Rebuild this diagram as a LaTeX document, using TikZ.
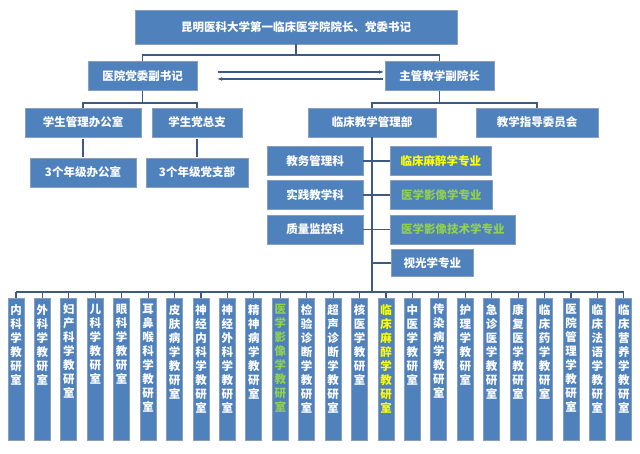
\documentclass[tikz,border=0pt]{standalone}
\usepackage{fontspec}
\setmainfont{Noto Sans CJK SC}
\XeTeXlinebreaklocale "zh"
\XeTeXlinebreakskip=0pt plus 1pt
\usetikzlibrary{arrows.meta}
\definecolor{boxblue}{RGB}{79,129,189}
\definecolor{edgeblue}{RGB}{56,93,138}
\definecolor{linkblue}{RGB}{60,90,130}
\definecolor{majyel}{RGB}{255,255,0}
\definecolor{majgrn}{RGB}{146,208,80}
\tikzset{
  unit/.style={draw=edgeblue!60!white, line width=0.8pt, fill=boxblue, text=white, inner sep=0pt, font=\fontsize{11.5}{13}\selectfont\bfseries},
  lab/.style={unit, minimum height=29},
  col/.style={unit, minimum width=16, minimum height=142, anchor=north},
  link/.style={draw=linkblue, line width=1.2pt},
}
\begin{document}
\begin{tikzpicture}[x=1pt,y=-1pt]
\useasboundingbox (0,0) rectangle (640,454);

% top levels
\node[lab, minimum width=322, minimum height=34] (head) at (296,27) {昆明医科大学第一临床医学院院长、党委书记};
\node[lab, minimum width=109] (party) at (142.5,76) {医院党委副书记};
\node[lab, minimum width=109] (vice) at (439.5,76) {主管教学副院长};
\draw[link] (head.south) -- (296,55);
\draw[link] (party.north) -- (142.5,55) -- (439.5,55) -- (vice.north);
\draw[link, -{Latex[length=5pt]}] (218,72) -- (384,72);
\draw[link, -{Latex[length=5pt]}] (383,79) -- (217,79);

% student side
\node[lab, minimum width=116] (stuoff) at (83,122.5) {学生管理办公室};
\node[lab, minimum width=90] (stupty) at (197,122.5) {学生党总支};
\node[lab, minimum width=106] (gradeoff) at (83,172.5) {3个年级办公室};
\node[lab, minimum width=102] (gradepty) at (197,172.5) {3个年级党支部};
\draw[link] (party.south) -- (142.5,103);
\draw[link] (stuoff.north) -- (83,103) -- (197,103) -- (stupty.north);
\draw[link] ([yshift=-2]stuoff.south) -- ([yshift=1]gradeoff.north);
\draw[link] ([yshift=-2]stupty.south) -- ([yshift=1]gradepty.north);

% teaching side
\node[lab, minimum width=128] (clin) at (372,122.5) {临床教学管理部};
\node[lab, minimum width=122] (guide) at (537,122.5) {教学指导委员会};
\draw[link] (vice.south) -- (439.5,103);
\draw[link] (clin.north) -- (372,103) -- (537,103) -- (guide.north);
\draw[link] (clin.south) -- (372,292);

\foreach \y/\nm/\txt in {161/affair/教务管理科, 195/pract/实践教学科, 229.5/qual/质量监控科}{
  \node[lab, minimum width=96, minimum height=29] (\nm) at (315,\y) {\txt};
  \draw[link] (\nm.east) -- (372,\y);
}
\node[lab, minimum width=101, minimum height=29, anchor=west, text=majyel] (anes) at (390,161) {临床麻醉学专业};
\node[lab, minimum width=102, minimum height=29, anchor=west, text=majgrn] (img) at (390,195) {医学影像学专业};
\node[lab, minimum width=125, minimum height=29, anchor=west, text=majgrn] (imgtec) at (390,229.5) {医学影像技术学专业};
\node[lab, minimum width=82, minimum height=27, anchor=west] (optic) at (391,263) {视光学专业};
\foreach \nm in {anes,img,imgtec,optic}
  \draw[link] (372,0 |- \nm.west) -- (\nm.west);

% teaching and research sections
\draw[link] (16,292) -- (624,292);
\foreach \t [count=\i] in {内科学教研室, 外科学教研室, 妇产科学教研室, 儿科学教研室, 眼科学教研室, 耳鼻喉科学教研室, 皮肤病学教研室, 神经内科学教研室, 神经外科学教研室, 精神病学教研室, 医学影像学教研室, 检验诊断学教研室, 超声诊断学教研室, 核医学教研室, 临床麻醉学教研室, 中医学教研室, 传染病学教研室, 护理学教研室, 急诊医学教研室, 康复医学教研室, 临床药学教研室, 医院管理学教研室, 临床法语学教研室, 临床营养学教研室}{
  \pgfmathsetmacro{\cx}{16+(\i-1)*26.43}
  \def\tc{white}
  \ifnum\i=11 \def\tc{majgrn}\fi
  \ifnum\i=15 \def\tc{majyel}\fi
  \node[col] (sec\i) at (\cx,298) {};
  \draw[link] (\cx,292) -- (sec\i.north);
  \node[anchor=north, text=\tc, font=\fontsize{11.5}{14}\selectfont\bfseries, text width=12, align=center, inner sep=0pt] at ([yshift=-6]sec\i.north) {\t};
}
\end{tikzpicture}
\end{document}
